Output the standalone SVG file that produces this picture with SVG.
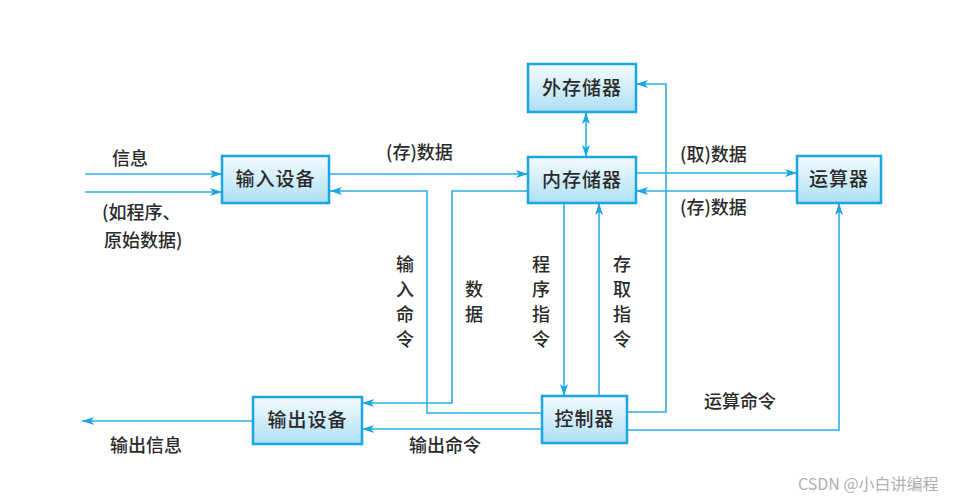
<svg xmlns="http://www.w3.org/2000/svg" width="967" height="500" viewBox="0 0 967 500">
<defs>
<linearGradient id="g" x1="0" y1="0" x2="0" y2="1">
<stop offset="0" stop-color="#f4fbfe"/>
<stop offset="1" stop-color="#aee0f5"/>
</linearGradient>
<marker id="a" viewBox="0 0 12 8" refX="12" refY="4" markerWidth="12" markerHeight="8" markerUnits="userSpaceOnUse" orient="auto-start-reverse">
<path d="M0,0 L12,4 L0,8 L3,4 Z" fill="#1aa6e4"/>
</marker>
</defs>
<style>
.box{fill:url(#g);stroke:#1aa6e4;stroke-width:2.5}
.bt{font-family:"Noto Sans CJK SC","Noto Sans CJK JP",sans-serif;font-size:19px;font-weight:500;fill:#2a2a2a;text-anchor:middle;letter-spacing:1px}
.t{font-family:"Noto Sans CJK SC","Noto Sans CJK JP",sans-serif;font-size:18px;font-weight:500;fill:#2a2a2a}
.vt{font-family:"Noto Sans CJK SC","Noto Sans CJK JP",sans-serif;font-size:18px;font-weight:500;fill:#2a2a2a;text-anchor:middle}
.c{fill:none;stroke:#29b0e8;stroke-width:1.6}
.wm{font-family:"Noto Sans CJK SC",sans-serif;font-size:16px;fill:#b0b0b0}
</style>
<rect width="967" height="500" fill="#ffffff"/>
<g id="connectors">
<line class="c" x1="85" y1="174" x2="222" y2="174" marker-end="url(#a)"/>
<line class="c" x1="85" y1="192" x2="222" y2="192" marker-end="url(#a)"/>
<line class="c" x1="330" y1="174" x2="528" y2="174" marker-end="url(#a)"/>
<polyline class="c" points="542,413 427,413 427,191 330,191" marker-end="url(#a)"/>
<polyline class="c" points="528,191 452,191 452,403 362,403" marker-end="url(#a)"/>
<line class="c" x1="542" y1="429" x2="362" y2="429" marker-end="url(#a)"/>
<line class="c" x1="253" y1="421" x2="82" y2="421" marker-end="url(#a)"/>
<polyline class="c" points="627,430 839,430 839,203" marker-end="url(#a)"/>
<polyline class="c" points="627,412 666,412 666,84 636,84" marker-end="url(#a)"/>
<line class="c" x1="586" y1="112" x2="586" y2="157" marker-start="url(#a)" marker-end="url(#a)"/>
<line class="c" x1="564" y1="203" x2="564" y2="396" marker-end="url(#a)"/>
<line class="c" x1="599" y1="396" x2="599" y2="203" marker-end="url(#a)"/>
<line class="c" x1="636" y1="173" x2="797" y2="173" marker-end="url(#a)"/>
<line class="c" x1="797" y1="191" x2="636" y2="191" marker-end="url(#a)"/>
</g>
<g id="input-device"><rect class="box" x="222" y="156" width="107" height="47"/><text class="bt" x="275.5" y="186">输入设备</text></g>
<g id="external-storage"><rect class="box" x="528" y="64" width="108" height="48"/><text class="bt" x="582" y="95">外存储器</text></g>
<g id="internal-storage"><rect class="box" x="528" y="157" width="108" height="46"/><text class="bt" x="582" y="187">内存储器</text></g>
<g id="alu"><rect class="box" x="797" y="156" width="84" height="47"/><text class="bt" x="839" y="186">运算器</text></g>
<g id="output-device"><rect class="box" x="253" y="397" width="109" height="47"/><text class="bt" x="307.5" y="427">输出设备</text></g>
<g id="controller"><rect class="box" x="542" y="396" width="85" height="47"/><text class="bt" x="584.5" y="426">控制器</text></g>
<g id="labels">
<text class="t" x="112" y="165">信息</text>
<text class="t" x="102" y="219">(如程序、</text>
<text class="t" x="104" y="247">原始数据)</text>
<text class="t" x="386" y="159">(存)数据</text>
<text class="t" x="680" y="161">(取)数据</text>
<text class="t" x="680" y="214">(存)数据</text>
<text class="vt" x="405" y="271">输</text><text class="vt" x="405" y="296">入</text><text class="vt" x="405" y="321">命</text><text class="vt" x="405" y="346">令</text>
<text class="vt" x="474" y="296">数</text><text class="vt" x="474" y="321">据</text>
<text class="vt" x="541" y="271">程</text><text class="vt" x="541" y="296">序</text><text class="vt" x="541" y="321">指</text><text class="vt" x="541" y="346">令</text>
<text class="vt" x="622" y="271">存</text><text class="vt" x="622" y="296">取</text><text class="vt" x="622" y="321">指</text><text class="vt" x="622" y="346">令</text>
<text class="t" x="704" y="408">运算命令</text>
<text class="t" x="409" y="452">输出命令</text>
<text class="t" x="110" y="452">输出信息</text>
<text class="wm" x="798" y="490">CSDN @小白讲编程</text>
</g>
</svg>
